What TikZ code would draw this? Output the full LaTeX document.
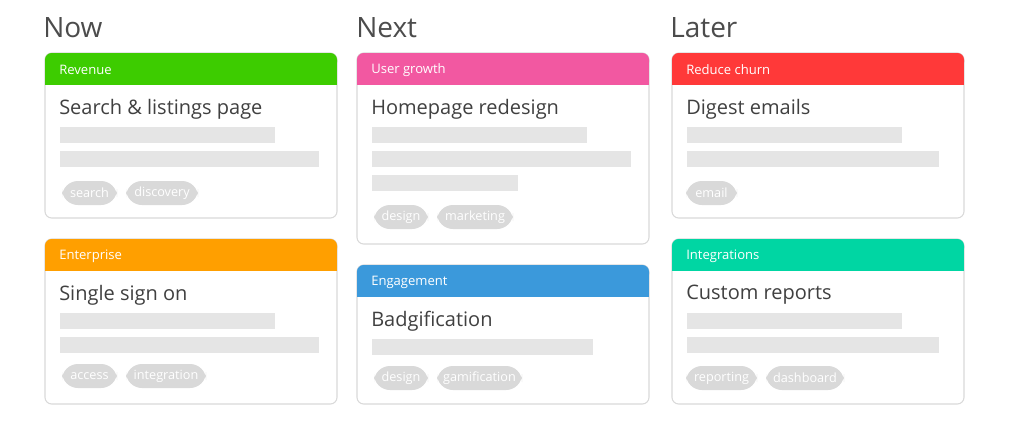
\documentclass[tikz,border=0pt]{standalone}
\usepackage{fontspec}
\setmainfont{Open Sans}
\begin{document}
\begin{tikzpicture}[x=0.75pt,y=-0.75pt,
  cardbox/.style={draw=black!15,line width=0.8pt,fill=white,rounded corners=5},
  bar/.style={fill=black!10},
  tag/.style={fill=black!15,rounded corners=12,text=white,font=\fontsize{9.5}{10}\selectfont,inner sep=0pt},
  coltitle/.style={anchor=west,font=\fontsize{21}{24}\selectfont\addfontfeature{}\color{black!70},inner sep=0},
  hdr/.style={anchor=west,font=\fontsize{9.8}{11}\selectfont,text=white,inner sep=0},
  ttl/.style={anchor=west,font=\fontsize{15}{17}\selectfont,text=black!75,inner sep=0}]
\useasboundingbox (0,0) rectangle (1025,429);
\fill[white] (0,0) rectangle (1025,429);
\newcommand\mycard[7]{%
  \draw[cardbox] (#1,#2) rectangle (#1+292,#3);
  \fill[#4,rounded corners=5] (#1,#2) rectangle (#1+292,#2+16);
  \fill[#4] (#1,#2+10) rectangle (#1+292,#2+32);
  \node[hdr] (#7h) at (#1+14,#2+17) {#5};
  \node[ttl] (#7t) at (#1+14,#2+56) {#6};}
\newcommand\mytag[5]{\fill[black!15,rounded corners=12] (#1,#3-12) rectangle (#2,#3+12);
  \node[text=white,font=\fontsize{9.5}{10}\selectfont,inner sep=0] (#5) at ({(#1+#2)/2},#3) {#4};}
\node[coltitle] (now) at (43,28) {Now};
\node[coltitle] (next) at (356,28) {Next};
\node[coltitle] (later) at (670,28) {Later};
% Now
\mycard{45}{53}{218}{green!60!lime!80!black!100}{Revenue}{Search \& listings page}{a}
\fill[bar] (60,127) rectangle (275,143); \fill[bar] (60,151) rectangle (319,167);
\mytag{62}{117}{193}{search}{ta1}\mytag{126}{198}{193}{discovery}{ta2}
\mycard{45}{239}{404}{orange!75!red!60!yellow}{Enterprise}{Single sign on}{b}
\fill[bar] (60,313) rectangle (275,329); \fill[bar] (60,337) rectangle (319,353);
\mytag{62}{117}{376}{access}{tb1}\mytag{126}{206}{376}{integration}{tb2}
% Next
\mycard{357}{53}{244}{magenta!55!pink}{User growth}{Homepage redesign}{c}
\fill[bar] (372,127) rectangle (587,143); \fill[bar] (372,151) rectangle (631,167);
\fill[bar] (372,175) rectangle (518,191);
\mytag{374}{428}{217}{design}{tc1}\mytag{437}{513}{217}{marketing}{tc2}
\mycard{357}{265}{404}{cyan!70!blue!80}{Engagement}{Badgification}{d}
\fill[bar] (372,339) rectangle (593,355);
\mytag{374}{428}{378}{design}{td1}\mytag{437}{522}{378}{gamification}{td2}
% Later
\mycard{672}{53}{218}{red!70!pink}{Reduce churn}{Digest emails}{e}
\fill[bar] (687,127) rectangle (902,143); \fill[bar] (687,151) rectangle (939,167);
\mytag{686}{737}{193}{email}{te1}
\mycard{672}{239}{404}{teal!40!cyan!80!green}{Integrations}{Custom reports}{f}
\fill[bar] (687,313) rectangle (902,329); \fill[bar] (687,337) rectangle (939,353);
\mytag{686}{757}{378}{reporting}{tf1}\mytag{766}{844}{378}{dashboard}{tf2}
\end{tikzpicture}
\end{document}
